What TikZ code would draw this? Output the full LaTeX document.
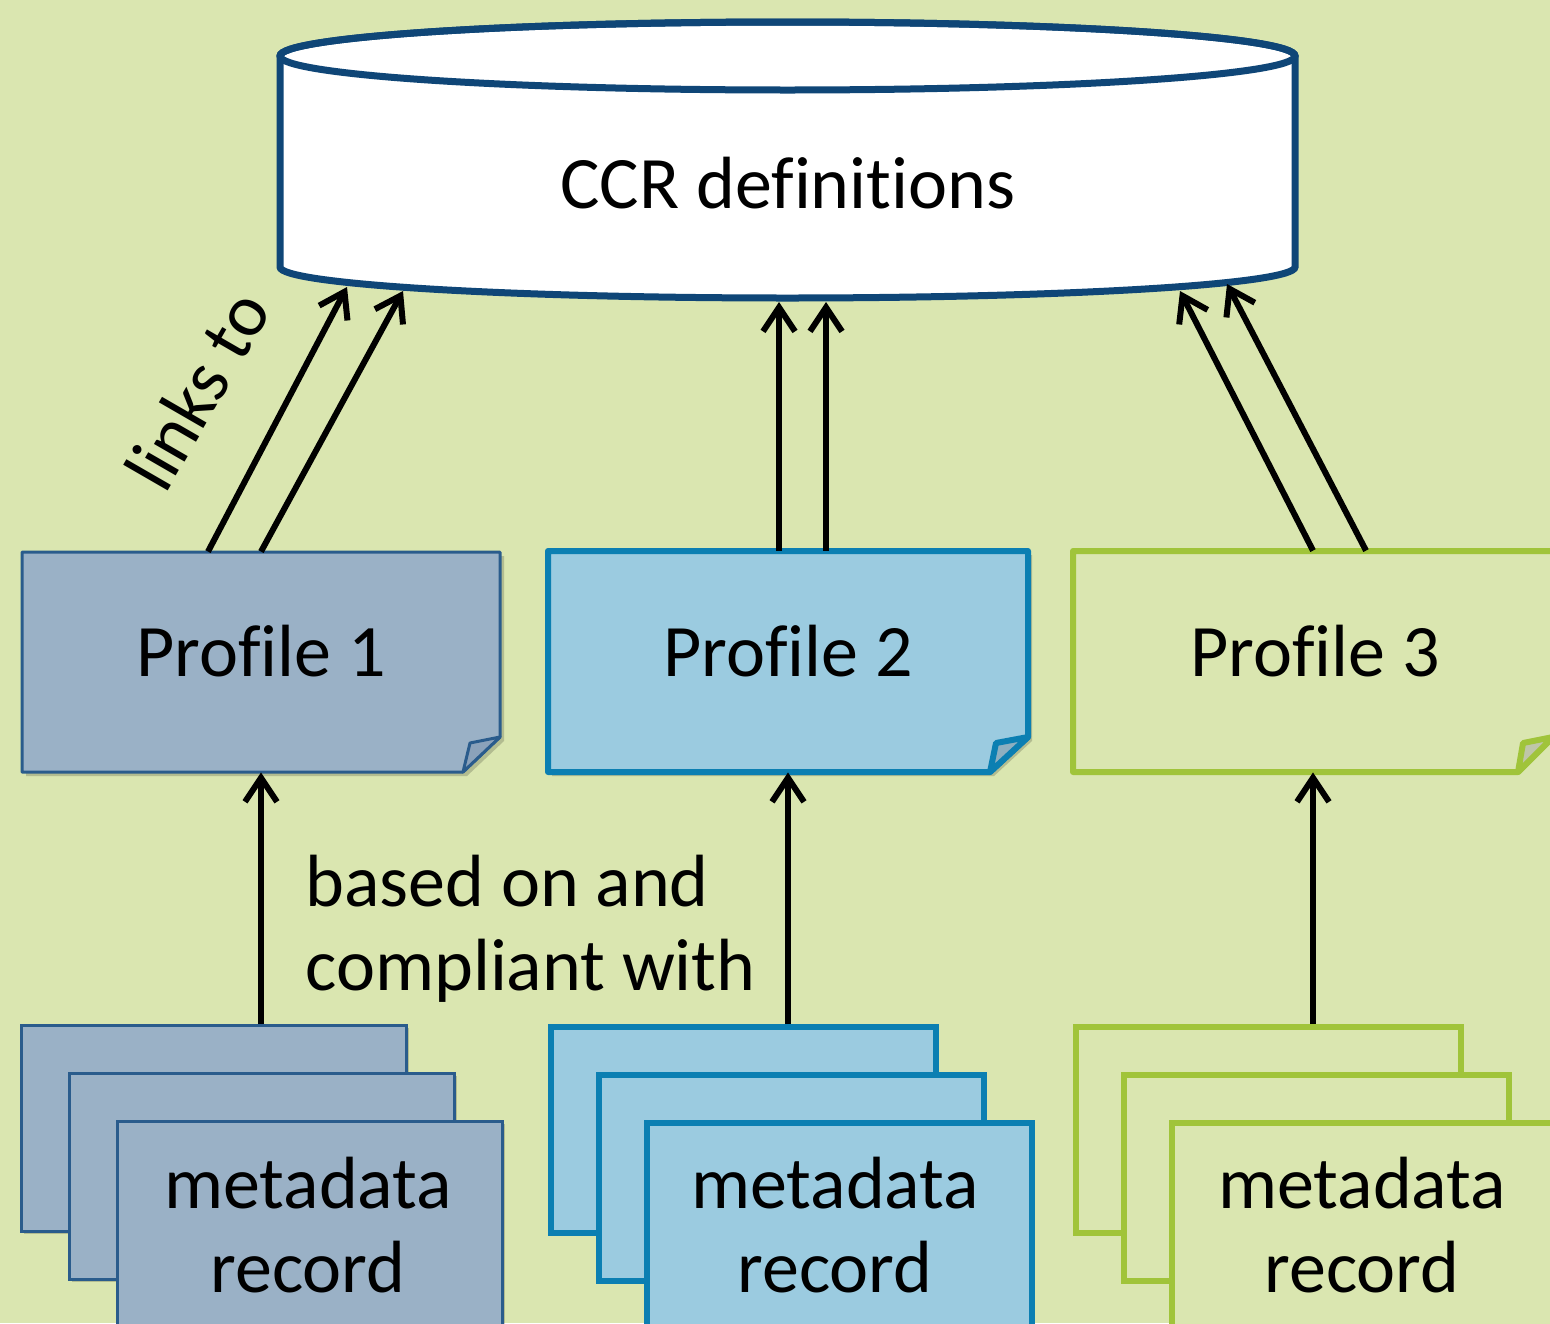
\documentclass[tikz,border=0pt]{standalone}
\usepackage{fontspec}
\setmainfont{Carlito}[Ligatures=NoCommon]
\usetikzlibrary{arrows.meta,calc}
\definecolor{bg}{HTML}{DAE6B0}
\definecolor{cylb}{HTML}{0F4677}
\definecolor{pAf}{HTML}{9AB1C6}
\definecolor{pAd}{HTML}{2A5C8C}
\definecolor{pAk}{HTML}{8BA2BA}
\definecolor{pBf}{HTML}{9BCBE0}
\definecolor{pBd}{HTML}{0B7FB2}
\definecolor{pBk}{HTML}{8DAFC0}
\definecolor{pCf}{HTML}{DAE6B0}
\definecolor{pCd}{HTML}{A0C43A}
\definecolor{pCk}{HTML}{BFC6A8}
\begin{document}
\begin{tikzpicture}[x=0.5pt,y=-0.5pt,
  conn/.style={line width=3pt,-{Straight Barb[length=12pt,width=16pt,line width=3pt]}},
  lbl/.style={font=\fontsize{37}{42}\selectfont,inner sep=0pt},
  anchorbox/.style={shape=rectangle,inner sep=0pt,draw=none},
  shadowfill/.style={fill=black,opacity=0.18},
]
\useasboundingbox (0,0) rectangle (1550,1323);
\begin{scope}
\clip (0,0) rectangle (1550,1323);
\fill[bg] (0,0) rectangle (1550,1323);

% cylinder
\node[anchorbox,minimum width=507.5pt,minimum height=139pt] (ccr) at (787.5,160) {};
\filldraw[fill=white,draw=cylb,line width=3.5pt]
  (280,56) -- (280,267) arc[start angle=180,end angle=0,x radius=507.5,y radius=31] -- (1295,56)
  arc[start angle=0,end angle=-180,x radius=507.5,y radius=34] -- cycle;
\draw[cylb,line width=3.5pt] (787.5,56) ellipse[x radius=507.5,y radius=34];
\node[lbl,anchor=base] (ccrt) at (788,208) {CCR definitions};

% cylinder arrow endpoints
\coordinate (c1a) at (347,287);
\coordinate (c1b) at (403,291);
\coordinate (c2a) at (779,302);
\coordinate (c2b) at (826,302);
\coordinate (c3a) at (1180,291);
\coordinate (c3b) at (1227,284);

% profile anchor nodes
\node[anchorbox,minimum width=239pt,minimum height=110pt] (p1) at (261,662) {};
\node[anchorbox,minimum width=240pt,minimum height=110.5pt] (p2) at (788,661.5) {};
\node[anchorbox,minimum width=240pt,minimum height=110.5pt] (p3) at (1313,661.5) {};

% shadows
\fill[shadowfill] (26,556) -- (504,556) -- (504,741) -- (467,776) -- (26,776) -- cycle;
\fill[shadowfill] (552,555) -- (1032,555) -- (1032,741) -- (994,776) -- (552,776) -- cycle;

% profile 1
\filldraw[fill=pAf,draw=pAd,line width=1.5pt,line join=round]
  (22,552) -- (500,552) -- (500,737) -- (463,772) -- (22,772) -- cycle;
\filldraw[fill=pAk,draw=pAd,line width=1.5pt,line join=round]
  (500,737) -- (470,743) -- (463,772) -- cycle;
\node[lbl,anchor=base] (p1t) at (261,676) {Profile 1};

% profile 2
\filldraw[fill=pBf,draw=pBd,line width=3pt,line join=round]
  (548,551) -- (1028,551) -- (1028,737) -- (990,772) -- (548,772) -- cycle;
\filldraw[fill=pBk,draw=pBd,line width=3pt,line join=round]
  (1028,737) -- (996,743) -- (990,772) -- cycle;
\node[lbl,anchor=base] (p2t) at (788,676) {Profile 2};

% profile 3
\filldraw[fill=pCf,draw=pCd,line width=3pt,line join=round]
  (1073,551) -- (1553,551) -- (1553,737) -- (1518,772) -- (1073,772) -- cycle;
\filldraw[fill=pCk,draw=pCd,line width=3pt,line join=round]
  (1553,737) -- (1523,743) -- (1518,772) -- cycle;
\node[lbl,anchor=base] (p3t) at (1315,676) {Profile 3};

% metadata stacks
\foreach \i/\fc/\dc/\lw/\xs in {1/pAf/pAd/1.5pt/20, 2/pBf/pBd/3pt/548, 3/pCf/pCd/3pt/1073}{
  \foreach \k in {0,1,2}{
    \pgfmathsetmacro{\xa}{\xs+48*\k}
    \pgfmathsetmacro{\ya}{1024+48*\k}
    \fill[shadowfill] (\xa+4,\ya+4) rectangle (\xa+389,\ya+210);
    \node[anchorbox,minimum width=192.5pt,minimum height=103pt,fill=\fc,draw=\dc,line width=\lw,anchor=north west] (m\i\k) at (\xa,\ya) {};
  }
}
\node[lbl,align=center,anchor=base] (m1t) at (308,1292) {metadata\\record};
\node[lbl,align=center,anchor=base] (m2t) at (835,1292) {metadata\\record};
\node[lbl,align=center,anchor=base] (m3t) at (1362,1292) {metadata\\record};

% arrows: profiles -> CCR
\draw[conn] ($(p1.north)+(-53,0)$) -- (c1a);
\draw[conn] (p1.north) -- (c1b);
\draw[conn] ($(p2.north)+(-9,0)$) -- (c2a);
\draw[conn] ($(p2.north)+(38,0)$) -- (c2b);
\draw[conn] (p3.north) -- (c3a);
\draw[conn] ($(p3.north)+(53,0)$) -- (c3b);

% arrows: records -> profiles
\draw[conn] (p1.south |- m10.north) -- (p1.south);
\draw[conn] (p2.south |- m20.north) -- (p2.south);
\draw[conn] (p3.south |- m30.north) -- (p3.south);

% labels
\node[lbl,rotate=60] (links) at (197,390) {links to};
\node[lbl,align=left,anchor=base west] (based) at (305,990) {based on and\\compliant with};
\end{scope}
\end{tikzpicture}
\end{document}
